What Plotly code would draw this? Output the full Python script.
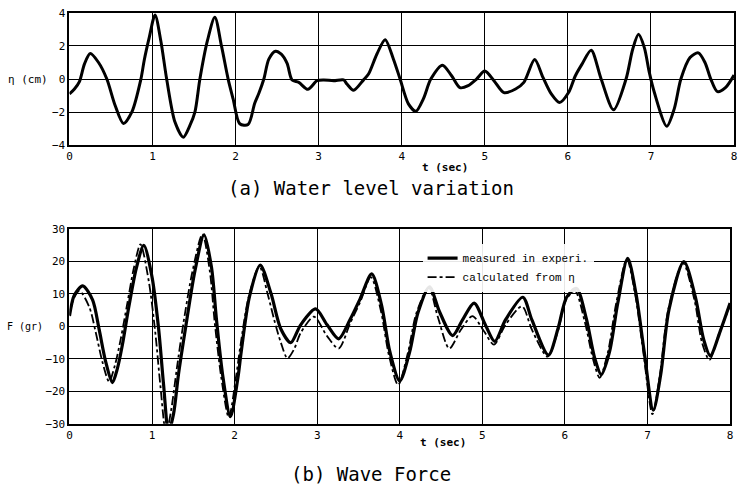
import plotly.graph_objects as go

# ---- data: water level (a) ----
eta_t = [0, 0.06, 0.12, 0.18, 0.25, 0.35, 0.45, 0.55, 0.65, 0.75, 0.86, 0.90, 0.96, 1.03, 1.10, 1.17,
         1.27, 1.37, 1.45, 1.51, 1.57, 1.66, 1.75, 1.83, 1.91, 1.97, 2.05, 2.15, 2.23, 2.28, 2.34, 2.40,
         2.48, 2.55, 2.62, 2.68, 2.76, 2.87, 2.98, 3.06, 3.18, 3.30, 3.34, 3.42, 3.54, 3.60, 3.70, 3.80,
         3.90, 3.98, 4.08, 4.17, 4.26, 4.35, 4.49, 4.60, 4.70, 4.80, 4.90, 5.00, 5.11, 5.23, 5.37, 5.47,
         5.60, 5.70, 5.80, 5.90, 6.01, 6.09, 6.17, 6.28, 6.40, 6.55, 6.70, 6.78, 6.85, 6.92, 6.98, 7.04,
         7.19, 7.28, 7.36, 7.47, 7.57, 7.65, 7.72, 7.80, 7.90, 8.0]
eta = [-0.9, -0.6, -0.15, 0.9, 1.54, 1.0, 0.0, -1.6, -2.69, -2.0, 0.0, 1.14, 2.5, 3.87, 2.3, 0.0,
       -2.6, -3.51, -2.8, -2.0, 0.0, 2.3, 3.73, 2.0, 0.0, -1.2, -2.7, -2.75, -1.46, -0.86, 0.0, 1.2,
       1.68, 1.5, 0.94, -0.06, -0.2, -0.62, -0.1, -0.05, -0.1, -0.05, -0.3, -0.68, -0.05, 0.3, 1.5, 2.38,
       1.2, 0.0, -1.5, -1.95, -1.2, 0.0, 0.84, 0.2, -0.52, -0.4, 0.0, 0.48, -0.1, -0.82, -0.6, -0.2,
       1.18, 0.1, -0.9, -1.42, -0.8, 0.2, 0.9, 1.74, 0.0, -1.86, 0.0, 1.8, 2.7, 1.9, 0.4, -0.8,
       -2.85, -1.8, 0.0, 1.3, 1.58, 1.0, 0.0, -0.76, -0.5, 0.24]

# ---- data: wave force (b), measured ----
fm_t = [0, 0.06, 0.16, 0.28, 0.36, 0.44, 0.52, 0.58, 0.64, 0.72, 0.81, 0.90, 1.0, 1.08, 1.14, 1.20,
        1.26, 1.32, 1.41, 1.52, 1.63, 1.72, 1.78, 1.86, 1.95, 2.04, 2.08, 2.18, 2.31, 2.44, 2.56, 2.68,
        2.80, 2.98, 3.12, 3.26, 3.40, 3.52, 3.66, 3.78, 3.88, 4.0, 4.12, 4.22, 4.36, 4.48, 4.64, 4.76,
        4.90, 5.04, 5.15, 5.28, 5.49, 5.60, 5.80, 5.92, 6.02, 6.14, 6.26, 6.36, 6.44, 6.54, 6.64, 6.76,
        6.86, 6.96, 7.07, 7.16, 7.26, 7.44, 7.58, 7.68, 7.76, 7.88, 8.0]
fm = [3.2, 9.7, 12.5, 8.2, -1, -11, -17.3, -13, -5.8, 6.2, 18, 25, 15.2, -0.8, -18, -32.5,
      -27, -14.8, 0.2, 17.2, 28.2, 18.2, 2.2, -15.8, -27.8, -15.8, -7.8, 9.2, 18.9, 10.2, -0.8, -5.0,
      0.5, 5.4, 0.5, -3.8, 2.2, 8.5, 16.2, 6.5, -7.8, -16.8, -7.8, 4.2, 12.2, 4.6, -2.8, 2,
      7.2, 0.3, -4.6, 2, 9.0, 2, -8.8, -0.3, 9, 11.7, 2.3, -9.7, -14.8, -7.8, 7.2, 21,
      10.2, -7.8, -25.8, -14.8, 5.2, 20, 9, -4, -9.0, -1.5, 7.2]

# ---- data: wave force (b), calculated from eta ----
fc_t = [0, 0.05, 0.12, 0.24, 0.32, 0.40, 0.48, 0.55, 0.62, 0.70, 0.78, 0.86, 0.96, 1.04, 1.10, 1.17,
        1.23, 1.30, 1.38, 1.49, 1.61, 1.70, 1.76, 1.84, 1.93, 2.02, 2.07, 2.17, 2.30, 2.40, 2.48, 2.56,
        2.64, 2.72, 2.80, 2.96, 3.12, 3.26, 3.40, 3.52, 3.65, 3.77, 3.87, 3.98, 4.10, 4.20, 4.35, 4.46,
        4.60, 4.74, 4.88, 5.02, 5.14, 5.28, 5.48, 5.60, 5.79, 5.92, 6.01, 6.12, 6.24, 6.34, 6.42, 6.52,
        6.62, 6.75, 6.85, 6.95, 7.06, 7.15, 7.25, 7.43, 7.57, 7.66, 7.75, 7.87, 8.0]
fc = [3.5, 8.5, 11, 6, -2, -11, -17, -12, -4, 7, 18, 25.3, 14, -2, -18, -33,
      -26, -13, 1, 17, 28.4, 17, 1, -16, -28, -15, -6, 9, 18.5, 10, 2, -5,
      -9.8, -7, -2, 3, -3, -6.8, 1, 7.5, 15.2, 5, -9, -18, -8, 4, 12, 3,
      -6.8, -1, 3.2, -1.5, -5.6, 0.5, 6.2, -1, -9.3, -1, 8, 11, 1.5, -10, -15.8, -8,
      7, 20.7, 10, -8, -27, -15, 5, 19.5, 8, -5, -10.3, -2, 6.5]

x_ticks = [0, 1, 2, 3, 4, 5, 6, 7, 8]
eta_ticks = [-4, -2, 0, 2, 4]
f_ticks = [-30, -20, -10, 0, 10, 20, 30]

W, H = 743, 500
MONO = "Liberation Mono, DejaVu Sans Mono, monospace"
TICKF = dict(family="DejaVu Sans Mono", size=11, color="black")

fig = go.Figure()
fig.add_trace(go.Scatter(x=eta_t, y=eta, mode="lines", line=dict(color="black", width=3, shape="spline", smoothing=0.8),
                         showlegend=False, xaxis="x", yaxis="y"))
fig.add_trace(go.Scatter(x=fc_t, y=fc, mode="lines", name="calculated from η",
                         line=dict(color="black", width=1.8, dash="dashdot", shape="spline", smoothing=0.8),
                         xaxis="x2", yaxis="y2"))
fig.add_trace(go.Scatter(x=fm_t, y=fm, mode="lines", name="measured in experi.",
                         line=dict(color="black", width=3.2, shape="spline", smoothing=0.8),
                         xaxis="x2", yaxis="y2"))

def ax(**kw):
    d = dict(showgrid=True, gridcolor="black", gridwidth=1, showline=True, linecolor="black", linewidth=2,
             mirror=True, zeroline=False, ticks="", tickfont=TICKF, fixedrange=True)
    d.update(kw)
    return d

fig.update_layout(
    width=W, height=H, margin=dict(l=0, r=0, t=0, b=0),
    paper_bgcolor="white", plot_bgcolor="white",
    xaxis=ax(domain=[67 / W, 737 / W], range=[0, 8], tickvals=x_ticks, anchor="y"),
    yaxis=ax(domain=[1 - 143 / H, 1 - 7 / H], range=[-4, 4], tickvals=eta_ticks, anchor="x"),
    xaxis2=ax(domain=[67 / W, 733 / W], range=[0, 8], tickvals=x_ticks, anchor="y2"),
    yaxis2=ax(domain=[1 - 429 / H, 1 - 229 / H], range=[-30, 30], tickvals=f_ticks, anchor="x2"),
    legend=dict(x=423 / W, y=1 - 244 / H, xanchor="left", yanchor="top", bgcolor="rgba(255,255,255,0.9)",
                font=dict(family=MONO, size=11, color="black"), traceorder="reversed",
                tracegroupgap=0, itemwidth=30),
    showlegend=True,
)

annots = [
    dict(text="η (cm)", x=47, y=75, xanchor="right", font=dict(family="DejaVu Sans Mono", size=11)),
    dict(text="F (gr)", x=42, y=329, xanchor="right", font=dict(family="DejaVu Sans Mono", size=10)),
    dict(text="<b>t (sec)</b>", x=446, y=166, xanchor="center", font=dict(family="DejaVu Sans Mono", size=11)),
    dict(text="<b>t (sec)</b>", x=444, y=448, xanchor="center", font=dict(family="DejaVu Sans Mono", size=11)),
    dict(text="(a) Water level variation", x=371, y=187, xanchor="center", font=dict(family="DejaVu Sans Mono", size=19)),
    dict(text="(b) Wave Force", x=371, y=481, xanchor="center", font=dict(family="DejaVu Sans Mono", size=19)),
]
for a in annots:
    fig.add_annotation(text=a["text"], x=a["x"] / W, y=1 - a["y"] / H, xref="paper", yref="paper",
                       xanchor=a["xanchor"], yanchor="middle", showarrow=False,
                       font=dict(color="black", **a["font"]))

fig.write_html("out.html")
